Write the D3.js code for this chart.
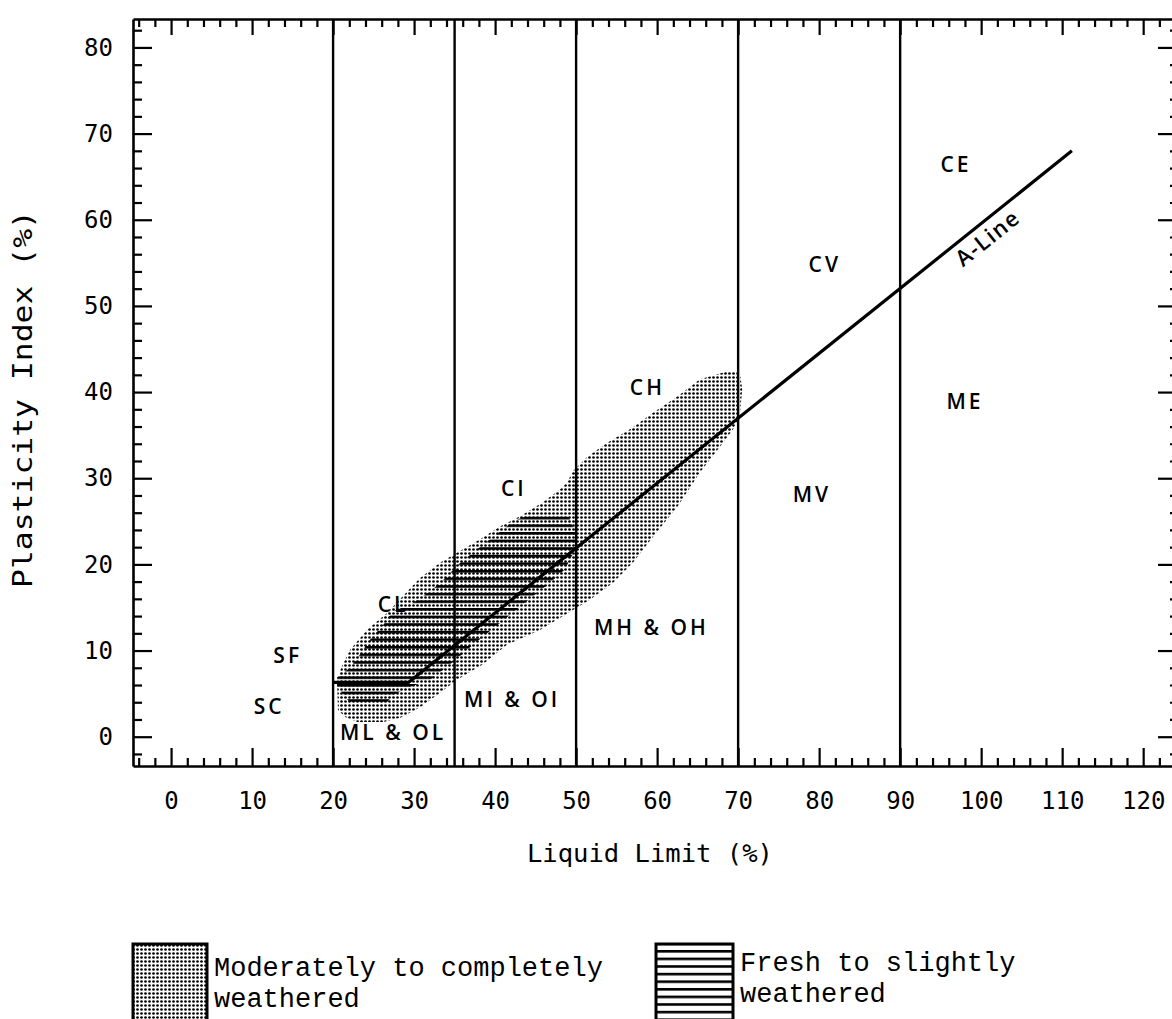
<!DOCTYPE html>
<html><head><meta charset="utf-8">
<script src="https://cdn.jsdelivr.net/npm/d3@7"></script>
<style>
body{margin:0;background:#fff}
svg{display:block}
.tick line{stroke:#000;stroke-width:2.2}
.domain{stroke:#000;stroke-width:2.6}
.ticklab text{font-family:"DejaVu Sans Mono",monospace;font-size:24px;fill:#000}
.region{font-family:"Open Sans",sans-serif;font-weight:600;font-size:21px;letter-spacing:3px;fill:#000}
.legtext{font-family:"Liberation Mono","Courier New","DejaVu Sans Mono",monospace;font-size:27px;fill:#000}
</style>
</head><body>
<svg id="c" width="1172" height="1019"></svg>
<script>
// ---------------- data ----------------
const boundaryLL = [20, 35, 50, 70, 90];
const aLineLL = [20, 29.3, 111.2];
const aLinePI = [6.3, 6.3, 68.0];

// Moderately to completely weathered envelope (LL, PI)
const weatheredLL = [20.5,21.0,22.1,24.2,26.7,28.6,30.7,33.2,35.4,38.1,40.6,43.1,45.9,48.0,48.9,49.6,51.4,53.8,56.7,59.5,62.5,65.3,68.6,70.2,70.5,70.2,69.4,67.8,65.3,62.5,59.5,57.0,54.6,51.7,48.9,45.6,41.5,38.5,35.3,33.2,30.7,28.3,26.2,23.0,21.5,20.6];
const weatheredPI = [6.3,8.0,10.1,12.4,14.4,16.3,18.4,20.2,21.4,22.9,24.4,25.6,27.2,28.7,29.5,30.8,32.5,34.1,35.7,37.6,39.5,41.5,42.4,42.4,40.3,37.2,35.7,33.7,30.7,26.7,23.2,20.2,17.9,15.9,14.3,12.4,10.7,8.4,6.6,5.1,3.4,2.2,1.7,1.7,2.3,3.1];

// Fresh to slightly weathered envelope (LL, PI)
const freshLL = [42.2,44.7,48.9,49.8,50.2,48.6,46.8,42.7,40.6,37.3,35.1,32.0,29.3,27.4,26.4,22.3,21.2,20.5,20.5,22.1,23.3,24.6,26.2,27.4,29.5,32.3,33.6,35.7,38.1,40.6];
const freshPI = [25.0,25.9,25.9,24.0,22.3,19.4,17.9,14.8,13.2,10.7,8.9,6.6,5.7,4.8,3.7,3.7,5.0,5.9,6.9,8.0,9.5,11.3,13.0,14.6,15.3,17.1,18.2,20.2,22.0,23.8];

const xMajorTicks = [0,10,20,30,40,50,60,70,80,90,100,110,120];
const xTickLabels = ["0","10","20","30","40","50","60","70","80","90","100","110","120"];
const yMajorTicks = [0,10,20,30,40,50,60,70,80];
const yTickLabels = ["0","10","20","30","40","50","60","70","80"];
const xMinorTicks = d3.range(-4, 125, 2).filter(v => v % 10 !== 0);
const yMinorTicks = d3.range(-2, 84, 2).filter(v => v % 10 !== 0);

const regionNames = ["SC","SF","CL","ML & OL","MI & OI","CI","CH","MH & OH","MV","ME","CV","CE"];
const regionLL = [12.1,14.4,27.4,27.4,42.1,42.3,58.8,59.3,79.1,98.0,80.7,96.9];
const regionPI = [2.6,8.6,14.5,-0.35,3.4,27.9,39.7,11.8,27.2,38.0,53.9,65.5];
const aLineLabel = "A-Line";
const aLineLabelLL = 100.7, aLineLabelPI = 58.0;

const xTitle = "Liquid Limit (%)";
const yTitle = "Plasticity Index (%)";
const legendLines = [["Moderately to completely","weathered"],["Fresh to slightly","weathered"]];

// ---------------- chart ----------------
const svg = d3.select("#c");
const x = d3.scaleLinear().domain([-4.7, 124.3]).range([133, 1178]);
const y = d3.scaleLinear().domain([-3.4, 83.3]).range([766, 19]);

const defs = svg.append("defs");
const dots = defs.append("pattern").attr("id","dots").attr("patternUnits","userSpaceOnUse")
  .attr("width",4).attr("height",4);
dots.append("circle").attr("cx",1.5).attr("cy",1.5).attr("r",1.35).attr("fill","#000");
const hatch = defs.append("pattern").attr("id","hatch").attr("patternUnits","userSpaceOnUse")
  .attr("width",8).attr("height",7.6);
hatch.append("rect").attr("x",0).attr("y",0).attr("width",8).attr("height",2.6).attr("fill","#000");

const line = d3.line().x(d => x(d[0])).y(d => y(d[1]));
const weathered = weatheredLL.map((v,i) => [v, weatheredPI[i]]);
const fresh = freshLL.map((v,i) => [v, freshPI[i]]);

svg.append("path").attr("d", line(weathered) + "Z").attr("fill","url(#dots)");
svg.append("path").attr("d", line(fresh) + "Z").attr("fill","url(#hatch)");

// boundaries
svg.append("g").selectAll("line").data(boundaryLL).join("line")
  .attr("x1", d => x(d)).attr("x2", d => x(d))
  .attr("y1", y(y.domain()[0])).attr("y2", y(y.domain()[1]))
  .attr("stroke","#000").attr("stroke-width",2.4);

// A-line
const aPts = aLineLL.map((v,i) => [v, aLinePI[i]]);
svg.append("path").attr("d", line(aPts)).attr("fill","none")
  .attr("stroke","#000").attr("stroke-width",3.2).attr("stroke-linejoin","round");

// axes
svg.append("g").attr("class","ticklab").attr("transform",`translate(0,${y.range()[0]})`)
  .call(d3.axisBottom(x).tickValues(xMajorTicks).tickSize(-18).tickSizeOuter(0).tickPadding(26)
    .tickFormat((d,i) => xTickLabels[i]));
svg.append("g").attr("transform",`translate(0,${y.range()[0]})`)
  .call(d3.axisBottom(x).tickValues(xMinorTicks).tickSize(-8).tickSizeOuter(0).tickFormat(""))
  .select(".domain").remove();

svg.append("g").attr("transform",`translate(0,${y.range()[1]})`)
  .call(d3.axisTop(x).tickValues(xMajorTicks).tickSize(-16).tickSizeOuter(0).tickFormat(""));
svg.append("g").attr("transform",`translate(0,${y.range()[1]})`)
  .call(d3.axisTop(x).tickValues(xMinorTicks).tickSize(-8).tickSizeOuter(0).tickFormat(""))
  .select(".domain").remove();

svg.append("g").attr("class","ticklab").attr("transform",`translate(${x.range()[0]},0)`)
  .call(d3.axisLeft(y).tickValues(yMajorTicks).tickSize(-19).tickSizeOuter(0).tickPadding(20)
    .tickFormat((d,i) => yTickLabels[i]));
svg.append("g").attr("transform",`translate(${x.range()[0]},0)`)
  .call(d3.axisLeft(y).tickValues(yMinorTicks).tickSize(-9).tickSizeOuter(0).tickFormat(""))
  .select(".domain").remove();

svg.append("g").attr("transform",`translate(${x.range()[1]},0)`)
  .call(d3.axisRight(y).tickValues(yMajorTicks).tickSize(-20).tickSizeOuter(0).tickFormat(""));
svg.append("g").attr("transform",`translate(${x.range()[1]},0)`)
  .call(d3.axisRight(y).tickValues(yMinorTicks).tickSize(-8).tickSizeOuter(0).tickFormat(""))
  .select(".domain").remove();

svg.selectAll(".ticklab text").attr("font-family",null).attr("font-size",null);

// titles
svg.append("text").attr("x",650).attr("y",862).attr("text-anchor","middle")
  .attr("textLength",246).attr("lengthAdjust","spacingAndGlyphs")
  .style("font-family","DejaVu Sans Mono").style("font-size","25px").text(xTitle);
svg.append("text").attr("transform","translate(32,399) rotate(-90)").attr("text-anchor","middle")
  .attr("textLength",378).attr("lengthAdjust","spacingAndGlyphs")
  .style("font-family","DejaVu Sans Mono").style("font-size","26px").text(yTitle);

// region labels
svg.append("g").selectAll("text").data(regionNames).join("text").attr("class","region")
  .attr("x",(d,i) => x(regionLL[i])).attr("y",(d,i) => y(regionPI[i]))
  .attr("text-anchor","middle").text(d => d);

// A-line label
const p1 = [x(aLineLL[1]), y(aLinePI[1])], p2 = [x(aLineLL[2]), y(aLinePI[2])];
const ang = Math.atan2(p2[1]-p1[1], p2[0]-p1[0]) * 180 / Math.PI;
svg.append("text").attr("class","region").style("font-size","22px").style("letter-spacing","1.5px")
  .attr("transform",`translate(${x(aLineLabelLL)},${y(aLineLabelPI)}) rotate(${ang})`)
  .attr("text-anchor","middle").attr("dominant-baseline","central").text(aLineLabel);

// legend
const leg = svg.append("g");
const boxes = [{x:133, w:74, ty:976, fill:"url(#dots)"},{x:656, w:77, ty:971, fill:"url(#hatch)"}];
boxes.forEach((b,i) => {
  leg.append("rect").attr("x",b.x).attr("y",944).attr("width",b.w).attr("height",90)
    .attr("fill",b.fill).attr("stroke","#000").attr("stroke-width",3);
  legendLines[i].forEach((t,j) => {
    leg.append("text").attr("class","legtext").attr("x", b.x + b.w + 7).attr("y", b.ty + j*31).text(t);
  });
});
</script>
</body></html>
